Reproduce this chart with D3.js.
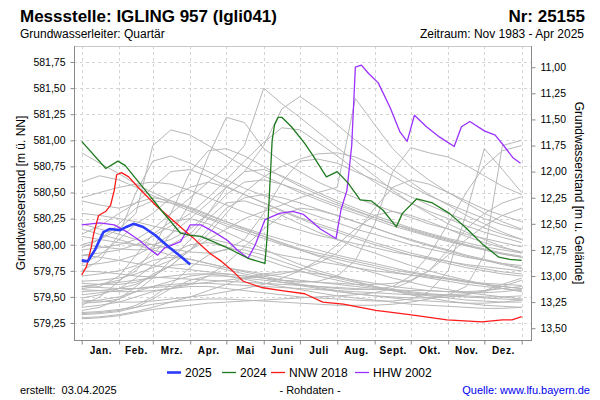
<!DOCTYPE html>
<html><head><meta charset="utf-8">
<script src="https://cdn.jsdelivr.net/npm/d3@7"></script>
<style>body{margin:0;background:#fff;font-family:"Liberation Sans",Arial,sans-serif}</style>
</head><body>
<script>
// ---------- DATA ----------
const months = ["Jan.","Feb.","Mrz.","Apr.","Mai","Juni","Juli","Aug.","Sept.","Okt.","Nov.","Dez."];
const monthStarts = [0,31,59,90,120,151,181,212,243,273,304,334,365];
const leftTicks = [579.25,579.5,579.75,580.0,580.25,580.5,580.75,581.0,581.25,581.5,581.75];
const rightTicks = [11.0,11.25,11.5,11.75,12.0,12.25,12.5,12.75,13.0,13.25,13.5];
const groundLevel = 592.70;
const legendNames = ["2025","2024","NNW 2018","HHW 2002"];

const days2025 = [0,5,11,18,23,32,37,43,51,61,72,83,90];
const levels2025 = [579.85,579.84,579.95,580.12,580.15,580.14,580.17,580.20,580.17,580.09,579.98,579.88,579.81];

const days2024 = [0,20,30,36,55,62,66,82,90,99,119,138,152,154,156,158,160,163,166,174,185,192,203,212,221,231,240,250,261,266,278,291,305,318,332,346,355,365];
const levels2024 = [580.99,580.73,580.80,580.76,580.49,580.39,580.33,580.11,580.09,580.08,579.98,579.87,579.82,580.10,580.55,581.00,581.15,581.22,581.22,581.13,580.97,580.85,580.65,580.70,580.59,580.43,580.42,580.33,580.17,580.30,580.44,580.40,580.30,580.17,580.01,579.88,579.86,579.85];

const days2018 = [0,4,8,10,14,20,24,27,29,33,39,46,62,72,82,92,106,116,126,134,149,166,185,200,217,244,272,303,332,349,357,365];
const levels2018 = [579.71,579.79,579.98,580.11,580.28,580.32,580.38,580.52,580.67,580.69,580.65,580.56,580.37,580.27,580.17,580.07,579.92,579.84,579.74,579.65,579.59,579.56,579.53,579.45,579.43,579.37,579.33,579.28,579.26,579.28,579.28,579.31];

const days2002 = [0,15,27,38,48,56,63,69,82,90,99,110,121,129,138,144,152,164,175,184,198,211,215,220,224,227,232,238,246,256,264,270,276,286,297,309,315,322,334,343,350,358,364];
const levels2002 = [580.19,580.21,580.19,580.12,580.04,579.96,579.90,579.97,580.03,580.19,580.19,580.12,580.04,579.95,579.87,580.00,580.24,580.30,580.32,580.29,580.15,580.06,580.33,580.52,580.95,581.70,581.72,581.64,581.55,581.31,581.08,580.99,581.24,581.13,581.03,580.94,581.13,581.18,581.09,581.05,580.95,580.83,580.78];

// other years, sampled twice a month
const grayDays = [0,15,31,45,59,74,90,105,120,135,151,166,181,196,212,227,243,258,273,288,304,319,334,349,365];
const grayYears = [
[580.88,580.78,580.68,580.58,580.50,580.42,580.34,580.26,580.20,580.14,580.08,580.02,579.96,579.92,579.88,579.84,579.80,579.76,579.73,579.70,579.67,579.64,579.62,579.60,579.58],
[580.60,580.66,580.62,580.55,580.47,580.40,580.32,580.25,580.18,580.12,580.06,580.00,579.95,579.90,579.86,579.82,579.78,579.74,579.71,579.68,579.65,579.62,579.60,579.58,579.56],
[579.95,579.97,580.00,580.05,580.15,580.30,580.45,580.60,580.75,580.95,581.50,581.35,581.22,581.08,580.93,580.80,580.66,580.52,580.40,580.30,580.20,580.12,580.05,579.98,579.92],
[579.80,579.82,579.85,579.90,579.98,580.10,580.25,580.40,580.55,580.70,580.95,581.30,581.42,581.30,581.15,581.00,580.86,580.72,580.60,580.48,580.38,580.28,580.20,580.12,580.05],
[579.70,579.72,579.75,579.80,579.90,580.10,580.40,580.85,581.22,581.17,580.92,580.80,580.70,580.60,580.52,580.45,580.38,580.32,580.26,580.20,580.15,580.10,580.06,580.02,579.98],
[580.00,580.05,580.15,580.30,580.95,581.10,581.05,580.95,580.85,580.75,580.66,580.58,580.50,580.43,580.36,580.30,580.24,580.18,580.13,580.08,580.03,579.99,579.95,579.91,579.88],
[579.55,579.56,579.58,579.62,579.70,579.80,579.95,580.05,580.15,580.25,580.32,580.38,580.45,580.50,580.55,581.40,581.15,580.92,580.75,580.62,580.50,580.40,580.30,580.22,580.15],
[579.45,579.47,579.50,579.55,579.60,579.65,579.70,579.72,579.72,579.70,579.68,579.66,579.64,579.65,579.70,579.85,580.20,580.70,580.93,580.88,580.84,580.76,580.66,580.56,580.48],
[579.40,579.42,579.45,579.50,579.55,579.58,579.60,579.60,579.58,579.56,579.54,579.52,579.50,579.49,579.48,579.47,579.46,579.46,579.48,579.55,579.75,580.30,580.92,580.72,580.50],
[579.35,579.36,579.38,579.40,579.43,579.45,579.47,579.48,579.48,579.47,579.46,579.45,579.44,579.43,579.42,579.42,579.42,579.43,579.45,579.48,579.52,579.60,579.90,580.95,581.00],
[579.60,579.62,579.64,579.66,579.68,579.70,579.72,579.72,579.70,579.68,579.66,579.64,579.62,579.60,579.58,579.57,579.57,579.60,579.70,579.90,580.20,580.50,580.75,580.90,580.95],
[579.65,579.66,579.68,579.72,579.78,579.85,579.95,580.10,580.30,580.50,580.65,580.75,580.82,580.87,580.88,580.84,580.76,580.66,580.56,580.47,580.39,580.32,580.25,580.19,580.14],
[579.90,579.92,579.95,580.00,580.08,580.18,580.30,580.45,580.62,580.80,580.98,581.12,581.10,580.98,580.85,580.72,580.60,580.50,580.40,580.32,580.25,580.18,580.12,580.07,580.02],
[579.60,579.62,579.66,579.75,579.95,580.30,580.70,580.90,580.92,580.85,580.75,580.65,580.56,580.48,580.40,580.33,580.26,580.20,580.14,580.09,580.04,579.99,579.95,579.91,579.88],
[579.75,579.85,580.10,580.50,580.80,580.85,580.78,580.70,580.62,580.54,580.47,580.40,580.33,580.27,580.21,580.15,580.10,580.05,580.00,579.96,579.92,579.88,579.85,579.82,579.80],
[580.45,580.50,580.55,580.58,580.60,580.58,580.52,580.45,580.38,580.31,580.25,580.19,580.14,580.09,580.05,580.01,579.97,579.93,579.90,579.87,579.84,579.81,579.79,579.77,579.75],
[580.42,580.38,580.35,580.40,580.55,580.70,580.72,580.65,580.56,580.48,580.40,580.32,580.25,580.18,580.12,580.06,580.00,579.95,579.90,579.86,579.82,579.78,579.75,579.72,579.70],
[580.30,580.28,580.25,580.22,580.18,580.14,580.10,580.06,580.02,579.98,579.94,579.90,579.87,579.84,579.81,579.78,579.75,579.73,579.71,579.69,579.67,579.65,579.63,579.62,579.61],
[580.08,580.05,580.02,580.00,580.00,580.05,580.15,580.30,580.48,580.60,580.62,580.58,580.52,580.45,580.38,580.32,580.26,580.20,580.15,580.10,580.05,580.00,579.96,579.92,579.89],
[579.97,580.05,580.20,580.35,580.42,580.40,580.35,580.28,580.22,580.16,580.10,580.05,580.00,579.95,579.90,579.86,579.82,579.78,579.74,579.71,579.68,579.65,579.62,579.60,579.58],
[579.82,579.90,580.05,580.20,580.30,580.45,580.55,580.60,580.55,580.48,580.40,580.33,580.26,580.20,580.14,580.08,580.02,579.97,579.92,579.88,579.84,579.80,579.77,579.74,579.72],
[579.75,579.74,579.72,579.70,579.69,579.68,579.67,579.66,579.65,579.64,579.63,579.62,579.61,579.60,579.59,579.58,579.57,579.57,579.56,579.56,579.55,579.55,579.56,579.58,579.60],
[579.63,579.62,579.62,579.64,579.70,579.80,579.95,580.15,580.35,580.45,580.48,580.45,580.40,580.34,580.28,580.22,580.16,580.10,580.05,580.00,579.95,579.90,579.86,579.82,579.78],
[579.57,579.56,579.55,579.55,579.56,579.58,579.62,579.70,579.82,579.98,580.15,580.28,580.35,580.33,580.28,580.22,580.16,580.10,580.04,579.99,579.94,579.89,579.85,579.81,579.77],
[579.49,579.52,579.58,579.68,579.80,579.92,580.00,580.02,579.98,579.92,579.86,579.80,579.75,579.70,579.66,579.62,579.59,579.56,579.53,579.51,579.49,579.47,579.46,579.45,579.45],
[579.47,579.46,579.45,579.45,579.46,579.48,579.50,579.52,579.55,579.58,579.62,579.68,579.75,579.85,580.00,580.15,580.28,580.32,580.28,580.22,580.15,580.08,580.02,579.97,579.93],
[579.42,579.50,579.65,579.78,579.85,579.88,579.86,579.82,579.78,579.74,579.70,579.66,579.62,579.59,579.56,579.53,579.51,579.49,579.47,579.46,579.45,579.44,579.44,579.45,579.47],
[579.37,579.40,579.48,579.60,579.72,579.80,579.82,579.80,579.76,579.72,579.68,579.64,579.61,579.58,579.55,579.53,579.51,579.50,579.49,579.49,579.50,579.52,579.56,579.62,579.68],
[579.34,579.35,579.37,579.42,579.50,579.62,579.78,579.90,579.96,579.95,579.90,579.84,579.78,579.73,579.68,579.64,579.60,579.57,579.55,579.53,579.52,579.51,579.50,579.50,579.51],
[579.30,579.31,579.33,579.36,579.40,579.45,579.50,579.56,579.62,579.68,579.72,579.74,579.74,579.72,579.69,579.66,579.63,579.60,579.58,579.56,579.55,579.54,579.54,579.55,579.57],
[579.29,579.30,579.32,579.35,579.38,579.40,579.42,579.44,579.45,579.46,579.47,579.48,579.49,579.50,579.51,579.52,579.54,579.58,579.65,579.75,579.90,580.05,580.18,580.28,580.35],
[580.20,580.15,580.10,580.05,580.00,579.96,579.93,579.92,579.95,580.05,580.30,580.60,580.80,580.82,580.78,580.70,580.62,580.54,580.46,580.38,580.30,580.23,580.16,580.10,580.05],
[579.90,579.88,579.85,579.82,579.80,579.78,579.76,579.74,579.72,579.70,579.68,579.66,579.65,579.64,579.63,579.62,579.62,579.63,579.66,579.75,579.95,580.15,580.30,580.40,580.46],
[579.60,579.59,579.58,579.58,579.59,579.60,579.62,579.64,579.66,579.68,579.70,579.72,579.76,579.82,579.92,580.10,580.35,580.55,580.62,580.58,580.50,580.42,580.34,580.28,580.22],
[580.15,580.10,580.05,580.00,579.95,579.90,579.86,579.82,579.78,579.75,579.72,579.69,579.66,579.64,579.62,579.60,579.58,579.56,579.54,579.52,579.51,579.50,579.49,579.48,579.47],
[580.00,579.98,579.96,579.95,579.96,580.00,580.10,580.30,580.55,580.70,580.72,580.66,580.58,580.50,580.42,580.35,580.28,580.22,580.16,580.11,580.06,580.02,579.98,579.95,579.92],
[579.52,579.54,579.56,579.58,579.60,579.62,579.63,579.63,579.62,579.61,579.60,579.59,579.58,579.57,579.56,579.55,579.54,579.53,579.52,579.52,579.52,579.53,579.55,579.60,579.66],
[579.33,579.34,579.36,579.40,579.48,579.58,579.66,579.70,579.70,579.67,579.63,579.60,579.57,579.54,579.51,579.49,579.47,579.45,579.43,579.42,579.41,579.40,579.39,579.39,579.40],
[579.58,579.60,579.70,579.90,580.10,580.22,580.25,580.20,580.12,580.04,579.96,579.88,579.81,579.75,579.70,579.65,579.60,579.56,579.52,579.49,579.46,579.44,579.42,579.41,579.40],
[579.44,579.45,579.48,579.55,579.68,579.85,580.05,580.25,580.40,580.42,580.36,580.28,580.20,580.12,580.05,579.98,579.92,579.86,579.80,579.75,579.70,579.66,579.62,579.58,579.55],
[580.10,580.18,580.30,580.40,580.45,580.42,580.36,580.29,580.22,580.15,580.08,580.01,579.95,579.89,579.83,579.78,579.73,579.68,579.64,579.60,579.57,579.54,579.52,579.50,579.48]
];

// ---------- LAYOUT ----------
const W = 600, H = 400;
const P = {left:74, right:531, top:46, bottom:340};
const font = '"Liberation Sans",Arial,sans-serif';
const svg = d3.select("body").append("svg").attr("width",W).attr("height",H)
  .style("font-family",font);

const x = d3.scaleLinear().domain([0,365]).range([81.7,521.7]);
const y = d3.scaleLinear().domain([579.25,581.75]).range([323,62]);
const yR = d3.scaleLinear().domain([groundLevel-579.25, groundLevel-581.75]).range([323,62]);
const fmt = d => d3.format(".2f")(d).replace(".",",");

// grid
const grid = svg.append("g").attr("stroke","#d4d4d4").attr("stroke-dasharray","3,3").attr("stroke-width",1);
grid.selectAll("line.h").data(leftTicks).join("line")
  .attr("x1",P.left).attr("x2",P.right).attr("y1",d=>Math.round(y(d))+0.5).attr("y2",d=>Math.round(y(d))+0.5);
grid.selectAll("line.v").data(monthStarts).join("line")
  .attr("y1",P.top).attr("y2",P.bottom).attr("x1",d=>Math.round(x(d))+0.5).attr("x2",d=>Math.round(x(d))+0.5);

// clip
svg.append("clipPath").attr("id","clip").append("rect")
  .attr("x",P.left).attr("y",P.top).attr("width",P.right-P.left).attr("height",P.bottom-P.top);

const line = d3.line().x(d=>x(d[0])).y(d=>y(d[1]));
const plot = svg.append("g").attr("clip-path","url(#clip)");

plot.selectAll("path.gray").data(grayYears).join("path")
  .attr("fill","none").attr("stroke","#b8b8b8").attr("stroke-width",1)
  .attr("d",vals=>line(vals.map((v,i)=>[grayDays[i],v])));

const highlights = [
  {days:days2002, vals:levels2002, color:"#9b30ff", w:1.3},
  {days:days2018, vals:levels2018, color:"#ff1a1a", w:1.3},
  {days:days2024, vals:levels2024, color:"#1e7a1e", w:1.3},
  {days:days2025, vals:levels2025, color:"#2b3cff", w:2.6}
];
plot.selectAll("path.hl").data(highlights).join("path")
  .attr("fill","none").attr("stroke",d=>d.color).attr("stroke-width",d=>d.w)
  .attr("stroke-linejoin","round")
  .attr("d",d=>line(d.days.map((dd,i)=>[dd,d.vals[i]])));

// frame
const frame = svg.append("g").attr("fill","none");
frame.append("line").attr("x1",P.left).attr("x2",P.right).attr("y1",P.top+0.5).attr("y2",P.top+0.5).attr("stroke","#c8c8c8");
frame.append("line").attr("x1",P.left+0.5).attr("x2",P.left+0.5).attr("y1",P.top).attr("y2",P.bottom).attr("stroke","#8a8a8a");
frame.append("line").attr("x1",P.right+0.5).attr("x2",P.right+0.5).attr("y1",P.top).attr("y2",P.bottom).attr("stroke","#8a8a8a");
frame.append("line").attr("x1",P.left).attr("x2",P.right+1).attr("y1",P.bottom+0.5).attr("y2",P.bottom+0.5).attr("stroke","#8a8a8a");

// axes
function styleAxis(g, size){
  g.select(".domain").remove();
  g.selectAll(".tick line").attr("stroke","#8a8a8a");
  g.selectAll("text").attr("fill","#000").style("font-size",size).style("font-family",font);
}
svg.append("g").attr("transform",`translate(${P.left+0.5},0)`)
  .call(d3.axisLeft(y).tickValues(leftTicks).tickFormat(fmt).tickSize(4).tickPadding(5))
  .call(g=>styleAxis(g,"10.5px"));
svg.append("g").attr("transform",`translate(${P.right+0.5},0)`)
  .call(d3.axisRight(yR).tickValues(rightTicks).tickFormat(fmt).tickSize(4).tickPadding(5))
  .call(g=>styleAxis(g,"10.5px"));
svg.append("g").attr("transform",`translate(0,${P.bottom+0.5})`)
  .call(d3.axisBottom(x).tickValues(monthStarts).tickFormat("").tickSize(4))
  .call(g=>styleAxis(g,"10px"));
const mids = months.map((m,i)=>(monthStarts[i]+monthStarts[i+1])/2);
svg.append("g").attr("transform",`translate(0,${P.bottom})`)
  .call(d3.axisBottom(x).tickValues(mids).tickFormat((d,i)=>months[i]).tickSize(0).tickPadding(7))
  .call(g=>{styleAxis(g,"10px"); g.selectAll("text").style("font-weight","bold").style("letter-spacing","0.6px");});

// axis titles
svg.append("text").attr("transform","translate(25,193) rotate(-90)").attr("text-anchor","middle")
  .style("font-size","12px").text("Grundwasserstand [m ü. NN]");
svg.append("text").attr("transform","translate(575,193) rotate(90)").attr("text-anchor","middle")
  .style("font-size","12px").text("Grundwasserstand [m u. Gelände]");

// titles
svg.append("text").attr("x",20).attr("y",22).style("font-size","17px").style("font-weight","bold").text("Messstelle: IGLING 957 (Igli041)");
svg.append("text").attr("x",20).attr("y",38).style("font-size","12px").text("Grundwasserleiter: Quartär");
svg.append("text").attr("x",585).attr("y",22).attr("text-anchor","end").style("font-size","17px").style("font-weight","bold").text("Nr: 25155");
svg.append("text").attr("x",584).attr("y",38).attr("text-anchor","end").style("font-size","12px").text("Zeitraum: Nov 1983 - Apr 2025");

// legend
const legX = [167,222,271,355];
const leg = svg.append("g");
highlights.slice().reverse().forEach((h,i)=>{
  const gx = legX[i];
  leg.append("line").attr("x1",gx).attr("x2",gx+14).attr("y1",372.5).attr("y2",372.5)
    .attr("stroke",h.color).attr("stroke-width",h.w);
  leg.append("text").attr("x",gx+18).attr("y",377).style("font-size","12px").text(legendNames[i]);
});

// footer
svg.append("text").attr("x",20).attr("y",394).style("font-size","11px").attr("xml:space","preserve").text("erstellt:  03.04.2025");
svg.append("text").attr("x",310).attr("y",394).attr("text-anchor","middle").style("font-size","11px").text("- Rohdaten -");
svg.append("text").attr("x",590).attr("y",394).attr("text-anchor","end").style("font-size","11px").attr("fill","#0000ee").text("Quelle: www.lfu.bayern.de");
</script>
</body></html>
